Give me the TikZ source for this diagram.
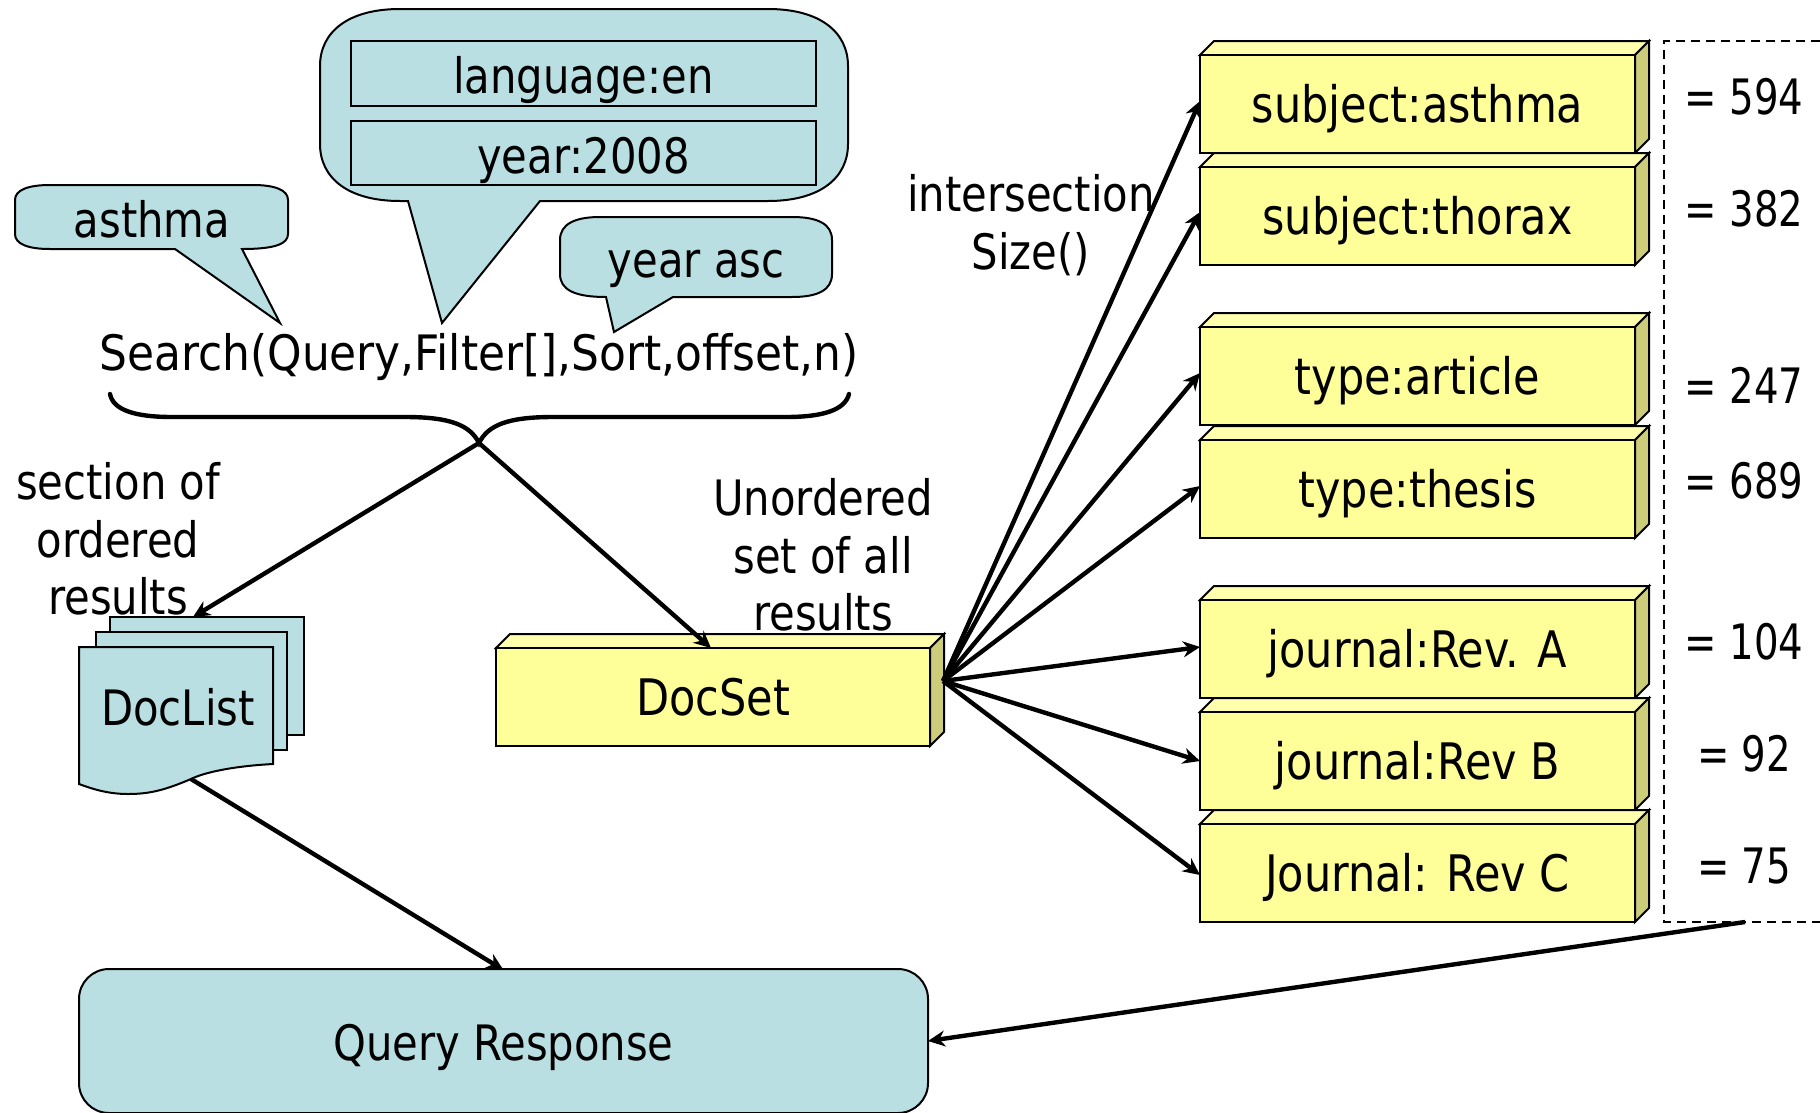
\documentclass[tikz,border=0pt]{standalone}
\usepackage{fontspec}
\setmainfont{DejaVu Sans Condensed}[FakeStretch=0.95]
\newfontfamily\widefont{DejaVu Sans Condensed}
\newfontfamily\narrowfont{DejaVu Sans Condensed}[FakeStretch=0.88]
\usetikzlibrary{arrows.meta,calc}
\definecolor{teal}{HTML}{B9DFE2}
\definecolor{yel}{HTML}{FFFF99}
\definecolor{yeltop}{HTML}{FFFFAD}
\definecolor{yelside}{HTML}{CCCC7A}
\tikzset{
  every node/.style={font=\fontsize{49}{58}\selectfont},
  lab/.style={inner sep=0pt,align=center,text height=34bp,text depth=10bp},
  outline/.style={draw=black,line width=2bp,line join=miter},
  tealshape/.style={outline,fill=teal},
  frontbox/.style={outline,fill=yel,inner sep=0pt,outer sep=0pt,text height=40bp,text depth=4bp,font=\fontsize{50.5}{58}\selectfont},
  conn/.style={line width=4.4bp,-{Stealth[length=17bp,width=16bp]}},
}
\newcommand{\cuboid}[6]{% name, left, top, width, height, text
  \path[outline,fill=yeltop] (#2,#3) -- ++(14,-14) -- ++(#4,0) -- ++(-14,14) -- cycle;
  \path[outline,fill=yelside] (#2+#4,#3) -- ++(14,-14) -- ++(0,#5) -- ++(-14,14) -- cycle;
  \node[frontbox,anchor=north west,minimum width=#4 bp,minimum height=#5 bp] (#1) at (#2,#3) {#6};
}
\begin{document}
\begin{tikzpicture}[x=1bp,y=-1bp]
\useasboundingbox (0,0) rectangle (1820,1112);
% callouts
\path[tealshape] (400,9) -- (768,9) .. controls (820,9) and (848,32) .. (848,66) -- (848,144) .. controls (848,178) and (820,201) .. (768,201) -- (540,201) -- (442,323) -- (408,201) -- (400,201) .. controls (348,201) and (320,178) .. (320,144) -- (320,66) .. controls (320,32) and (348,9) .. (400,9) -- cycle;
\node[tealshape,inner sep=0pt,minimum width=465bp,minimum height=65bp,text height=42bp,text depth=2bp] (lang) at (583.5,73.5) {language:en};
\node[tealshape,inner sep=0pt,minimum width=465bp,minimum height=64bp,text height=42bp,text depth=2bp] (yr) at (583.5,153) {year:2008};
\path[tealshape] (50,185) -- (253,185) .. controls (275,185) and (288,190) .. (288,200) -- (288,234) .. controls (288,244) and (275,249) .. (242,249) -- (280,323) -- (175,249) -- (50,249) .. controls (28,249) and (15,244) .. (15,234) -- (15,200) .. controls (15,190) and (28,185) .. (50,185) -- cycle;
\node[lab] (asthma) at (152,225) {asthma};
\path[tealshape] (600,217) -- (792,217) .. controls (818,217) and (832,224) .. (832,240) -- (832,274) .. controls (832,290) and (818,297) .. (792,297) -- (673,297) -- (614,332) -- (606,297) .. controls (575,297) and (560,290) .. (560,274) -- (560,240) .. controls (560,224) and (575,217) .. (600,217) -- cycle;
\node[lab] (yasc) at (696,265) {year asc};
\node[lab,font=\fontsize{49}{58}\widefont] (search) at (479,358) {Search(Query,Filter[],Sort,offset,n)};
% brace
\coordinate (bracetip) at (479,443);
\draw[line width=4.4bp,line cap=round] (110,394) .. controls (113,410) and (135,417) .. (172,417) -- (405,417) .. controls (450,417) and (470,425) .. (bracetip) .. controls (488,425) and (508,417) .. (553,417) -- (786,417) .. controls (823,417) and (845,410) .. (849,394);
% labels
\node[lab] (sec1) at (118,487) {section of};
\node[lab] (sec2) at (118,545) {ordered};
\node[lab] (sec3) at (118,602) {results};
\node[lab] (uno1) at (823,503) {Unordered};
\node[lab] (uno2) at (823,561) {set of all};
\node[lab] (uno3) at (823,618) {results};
\node[lab] (int1) at (1031,199) {intersection};
\node[lab] (int2) at (1031,257) {Size()};
% doclist
\node[tealshape,inner sep=0pt,outer sep=0pt,anchor=north west,minimum width=194bp,minimum height=118bp] (page3) at (110,617) {};
\node[tealshape,inner sep=0pt,outer sep=0pt,anchor=north west,minimum width=191bp,minimum height=118bp] (page2) at (96,632) {};
\path[tealshape] (79,647) -- (273,647) -- (273,764) .. controls (235,766) and (205,772) .. (191,779) .. controls (165,790) and (150,794) .. (128,794) .. controls (110,794) and (95,790) .. (79,784) -- cycle;
\node[lab] (doclist) at (178,713) {DocList};
\coordinate (docin) at (193,617);
\coordinate (docout) at (191,779);
% docset
\cuboid{docset}{496}{648}{434}{98}{DocSet}
\coordinate (dsout) at (943,681);
% facet boxes
\cuboid{f1}{1200}{55}{435}{98}{subject:asthma}
\cuboid{f2}{1200}{167}{435}{98}{subject:thorax}
\cuboid{f3}{1200}{327}{435}{98}{type:article}
\cuboid{f4}{1200}{440}{435}{98}{type:thesis}
\cuboid{f5}{1200}{600}{435}{98}{journal:Rev. A}
\cuboid{f6}{1200}{712}{435}{98}{journal:Rev B}
\cuboid{f7}{1200}{824}{435}{98}{Journal: Rev C}
% counts
\draw[line width=2bp,dash pattern=on 9bp off 6bp] (1820,41) -- (1664,41) -- (1664,922) -- (1820,922);
\coordinate (countsout) at (1745,922);
\tikzset{cnt/.style={lab,font=\fontsize{49}{58}\narrowfont}}
\node[cnt] (c1) at (1744,102) {= 594};
\node[cnt] (c2) at (1744,214) {= 382};
\node[cnt] (c3) at (1744,391) {= 247};
\node[cnt] (c4) at (1744,486) {= 689};
\node[cnt] (c5) at (1744,647) {= 104};
\node[cnt] (c6) at (1744,759) {= 92};
\node[cnt] (c7) at (1744,871) {= 75};
% response
\node[tealshape,inner sep=0pt,outer sep=0pt,rounded corners=30bp,anchor=north west,minimum width=849bp,minimum height=144bp,text height=41bp,text depth=3bp] (resp) at (79,969) {Query Response};
% connectors
\draw[conn] (bracetip) -- (docin);
\draw[conn] (bracetip) -- ([xshift=-2bp]docset.north);
\draw[conn] (docout) -- ([yshift=-1bp]resp.north);
\draw[conn] (dsout) -- ([yshift=3bp]f1.west);
\draw[conn] (dsout) -- ([yshift=4bp]f2.west);
\draw[conn] (dsout) -- ([yshift=3bp]f3.west);
\draw[conn] (dsout) -- ([yshift=3bp]f4.west);
\draw[conn] (dsout) -- ([yshift=2bp]f5.west);
\draw[conn] (dsout) -- (f6.west);
\draw[conn] (dsout) -- ([yshift=-2bp]f7.west);
\draw[conn] (countsout) -- (resp.east);
\end{tikzpicture}
\end{document}
